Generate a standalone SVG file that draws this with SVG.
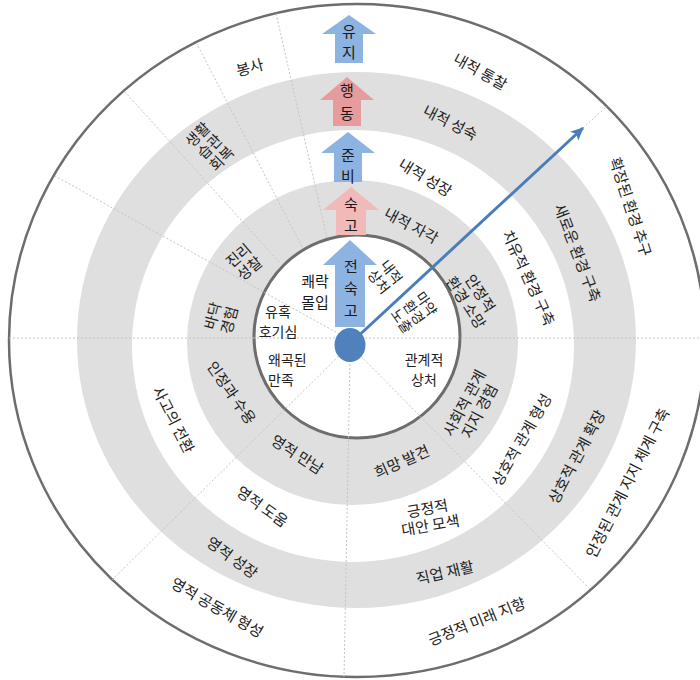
<svg xmlns="http://www.w3.org/2000/svg" width="700" height="680" viewBox="0 0 700 680">
<defs>
<style>
.t{font-family:"Noto Sans CJK KR","Noto Sans",sans-serif;font-size:15px;fill:#222222;text-anchor:middle}
.ts{font-family:"Noto Sans CJK KR","Noto Sans",sans-serif;font-size:14px;fill:#222222;text-anchor:middle}
.ti{font-family:"Noto Sans CJK KR","Noto Sans",sans-serif;font-size:15px;fill:#1a1a1a;text-anchor:middle}
.ta{font-family:"Noto Sans CJK KR","Noto Sans",sans-serif;font-size:15px;fill:#1a1a1a;text-anchor:middle}
.band{fill:#dfdfdf}
.div{stroke:#c4c4c4;stroke-width:1;stroke-dasharray:2,2;fill:none}
.blue{fill:#8db3e2}
.pink{fill:#e69c9c}
.pinkl{fill:#f2b9b9}
</style>
<marker id="ah" markerUnits="userSpaceOnUse" markerWidth="14" markerHeight="12" refX="12" refY="6" orient="auto">
<path d="M0,0 L13,6 L0,12 L3,6 z" fill="#4a7ebb"/>
</marker>
</defs>
<rect x="0" y="0" width="700" height="680" fill="#ffffff"/>
<g id="rings">
<ellipse cx="357" cy="340.5" rx="348" ry="336.5" fill="#ffffff" stroke="#6d6d6d" stroke-width="2.5"/>
<ellipse class="band" cx="356.5" cy="340" rx="279.5" ry="268"/>
<ellipse cx="353" cy="346" rx="221" ry="216" fill="#ffffff"/>
<ellipse class="band" cx="352.5" cy="342.5" rx="165.5" ry="162.5"/>
<ellipse cx="357" cy="336.5" rx="103" ry="101.5" fill="#ffffff" stroke="#6d6d6d" stroke-width="3"/>
</g>
<g id="connectors">
<line class="div" x1="9" y1="338" x2="700" y2="338"/>
<line class="div" x1="350" y1="360" x2="344" y2="677"/>
<line class="div" x1="350" y1="345" x2="112" y2="580"/>
<line class="div" x1="350" y1="345" x2="590" y2="589"/>
<line class="div" x1="583" y1="128" x2="607" y2="106"/>
<line class="div" x1="350" y1="340" x2="55" y2="176"/>
<line class="div" x1="327" y1="238" x2="276" y2="13"/>
<line class="div" x1="302" y1="247" x2="197" y2="44"/>
<line class="div" x1="279" y1="262" x2="125" y2="92"/>
<line x1="354" y1="340" x2="583" y2="128" stroke="#4a7ebb" stroke-width="3" marker-end="url(#ah)"/>
</g>
<g id="stage-yuji">
<polygon class="blue" points="349,15 376,34 363,34 363,63 335,63 335,34 322,34"/>
<text class="ta" x="349" y="37">유<tspan x="349" dy="21">지</tspan></text>
</g>
<g id="stage-haengdong">
<polygon class="pink" points="347,77 374,100 361,100 361,126 333,126 333,100 320,100"/>
<text class="ta" x="347" y="96">행<tspan x="347" dy="23">동</tspan></text>
</g>
<g id="stage-junbi">
<polygon class="blue" points="348,132 375,153 362,153 362,182 334,182 334,153 321,153"/>
<text class="ta" x="348" y="161">준<tspan x="348" dy="21">비</tspan></text>
</g>
<g id="stage-sukgo">
<polygon class="pinkl" points="351,187 379,210 366,210 366,235 336,235 336,210 323,210"/>
<text class="ta" x="351" y="210">숙<tspan x="351" dy="21">고</tspan></text>
</g>
<g id="stage-jeonsukgo">
<polygon class="blue" points="350,240 377,265 365,265 365,327 335,327 335,265 323,265"/>
<text class="ta" x="351" y="272">전<tspan x="351" dy="22">숙</tspan><tspan x="351" dy="22">고</tspan></text>
</g>
<g id="center-dot">
<ellipse cx="350" cy="345" rx="15.5" ry="17" fill="#4f81bd"/>
</g>
<g id="inner-labels">
<g id="n-kwaerak"><text class="ti" x="315" y="287">쾌락<tspan x="315" dy="21">몰입</tspan></text></g>
<g id="n-yuhok"><text class="ts" x="278" y="317">유혹<tspan x="278" dy="20">호기심</tspan></text></g>
<g id="n-waegok"><text class="ts" x="268" y="365" style="text-anchor:start">왜곡된<tspan x="268" dy="20">만족</tspan></text></g>
<g id="n-gwangye"><text class="ts" x="424" y="365">관계적<tspan x="424" dy="20">상처</tspan></text></g>
<g id="n-naejeok" transform="translate(385,277) rotate(52)"><text class="ts" x="0" y="-3">내적<tspan x="0" dy="16">상처</tspan></text></g>
<g id="n-mayak" transform="translate(413,313) rotate(55)"><text class="ts" x="0" y="-11">마약<tspan x="0" dy="15">환경</tspan><tspan x="0" dy="15">노출</tspan></text></g>
</g>
<g id="ring1-labels">
<g id="n-jagak" transform="translate(411,226) rotate(28)"><text class="t" y="5">내적 자각</text></g>
<g id="n-anjeong" transform="translate(473,298) rotate(57)"><text class="t" x="0" y="-3">안정적<tspan x="0" dy="17">환경 소망</tspan></text></g>
<g id="n-sahoe" transform="translate(472,407) rotate(-62)"><text class="t" x="0" y="-3">사회적 관계<tspan x="0" dy="17">지지 경험</tspan></text></g>
<g id="n-huimang" transform="translate(402,462) rotate(-24)"><text class="t" y="5">희망 발견</text></g>
<g id="n-manam" transform="translate(297,455) rotate(33)"><text class="t" y="5">영적 만남</text></g>
<g id="n-injeong" transform="translate(231,393) rotate(55)"><text class="t" y="5">인정과 수용</text></g>
<g id="n-badak" transform="translate(221,318) rotate(-75)"><text class="t" x="0" y="-3">바닥<tspan x="0" dy="17">경험</tspan></text></g>
<g id="n-jilli" transform="translate(244,262) rotate(-40)"><text class="t" x="0" y="-3">진리<tspan x="0" dy="17">성찰</tspan></text></g>
</g>
<g id="ring2-labels">
<g id="n-seongjang" transform="translate(425,178) rotate(31)"><text class="t" y="5">내적 성장</text></g>
<g id="n-chiyu" transform="translate(528,278) rotate(65)"><text class="t" y="5">치유적 환경 구축</text></g>
<g id="n-hyeongseong" transform="translate(522,440) rotate(-60)"><text class="t" y="5">상호적 관계 형성</text></g>
<g id="n-daean" transform="translate(429,517) rotate(-10)"><text class="t" x="0" y="-3">긍정적<tspan x="0" dy="17">대안 모색</tspan></text></g>
<g id="n-doum" transform="translate(262,507) rotate(35)"><text class="t" y="5">영적 도움</text></g>
<g id="n-sago" transform="translate(173,420) rotate(63)"><text class="t" y="5">사고의 전환</text></g>
</g>
<g id="ring3-labels">
<g id="n-seongsuk" transform="translate(450,123) rotate(27)"><text class="t" y="5">내적 성숙</text></g>
<g id="n-saeroun" transform="translate(577,253) rotate(69)"><text class="t" y="5">새로운 환경 구축</text></g>
<g id="n-hwakjang" transform="translate(577,457) rotate(-62)"><text class="t" y="5">상호적 관계 확장</text></g>
<g id="n-jigeop" transform="translate(445,573) rotate(-13)"><text class="t" y="5">직업 재활</text></g>
<g id="n-yeongseong" transform="translate(232,558) rotate(36)"><text class="t" y="5">영적 성장</text></g>
<g id="n-saenghwal" transform="translate(210,147) rotate(-45)"><text class="t" x="0" y="-12">생활<tspan x="0" dy="17">습관</tspan><tspan x="0" dy="17">회복</tspan></text></g>
</g>
<g id="ring4-labels">
<g id="n-bongsa" transform="translate(250,68) rotate(-15)"><text class="t" y="5">봉사</text></g>
<g id="n-tongchal" transform="translate(480,72) rotate(29)"><text class="t" y="5">내적 통찰</text></g>
<g id="n-hwakjangdoen" transform="translate(630,207) rotate(72)"><text class="t" y="5">확장된 환경 추구</text></g>
<g id="n-anjeongdoen" transform="translate(628,483) rotate(-63)"><text class="t" y="5">안정된 관계 지지 체계 구축</text></g>
<g id="n-mirae" transform="translate(477,622) rotate(-22)"><text class="t" y="5">긍정적 미래 지향</text></g>
<g id="n-gongdongche" transform="translate(217,608) rotate(30)"><text class="t" y="5">영적 공동체 형성</text></g>
</g>
</svg>
